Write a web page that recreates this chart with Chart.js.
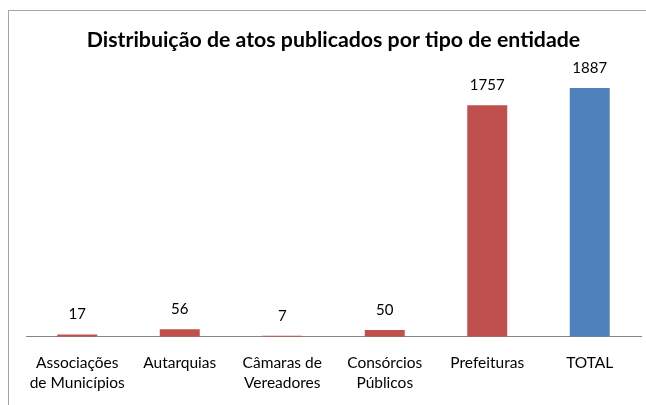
<!DOCTYPE html>
<html>
<head>
<meta charset="utf-8">
<script src="https://cdn.jsdelivr.net/npm/chart.js@4/dist/chart.umd.min.js"></script>
<style>
  html, body { margin: 0; padding: 0; background: #fff; overflow: hidden; }
  #wrap { position: relative; width: 646px; height: 405px; }
  #frame {
    position: absolute; left: 8px; top: 10px; width: 700px; height: 500px;
    border: 1px solid #a6a6a6; pointer-events: none;
  }
  canvas { position: absolute; left: 0; top: 0; }
</style>
</head>
<body>
<div id="wrap">
  <div id="frame"></div>
  <canvas id="atos_graph" width="646" height="405"></canvas>
</div>
<script>
// dados do grafico
const categorias = [
  ["Associações", "de Municípios"],
  "Autarquias",
  ["Câmaras de", "Vereadores"],
  ["Consórcios", "Públicos"],
  "Prefeituras",
  "TOTAL",
];
const valores = [17, 56, 7, 50, 1757, 1887];
const cores = ["#C0504D", "#C0504D", "#C0504D", "#C0504D", "#C0504D", "#4F81BD"];
const tituloGrafico = "Distribuição de atos publicados por tipo de entidade";

// escreve o valor em cima de cada barra
const valorNaBarra = {
  id: "valorNaBarra",
  afterDatasetsDraw: (chart) => {
    const ctx = chart.ctx;
    const meta = chart.getDatasetMeta(0);
    ctx.save();
    ctx.font = "15px Lato";
    ctx.fillStyle = "#000";
    ctx.textAlign = "center";
    ctx.textBaseline = "middle";
    meta.data.forEach((bar, i) => {
      ctx.fillText(String(chart.data.datasets[0].data[i]), bar.x, bar.y - 20);
    });
    ctx.restore();
  },
};

window["atos_graph"] = new Chart(document.getElementById("atos_graph"), {
  type: "bar",
  data: {
    labels: categorias,
    datasets: [
      {
        data: valores,
        backgroundColor: cores,
        barPercentage: 0.39,
        categoryPercentage: 1,
      },
    ],
  },
  options: {
    responsive: false,
    animation: false,
    layout: { padding: { left: 26, right: 5, top: 0, bottom: -4 } },
    plugins: {
      legend: { display: false },
      tooltip: { enabled: false },
      title: {
        display: true,
        text: tituloGrafico,
        color: "#000",
        font: { family: "Lato", size: 21.3, weight: "bold", lineHeight: 1.2 },
        padding: { top: 27.5, bottom: 6.9 },
      },
    },
    scales: {
      x: {
        grid: { display: false, drawTicks: false },
        border: { display: true, color: "#868686", width: 1 },
        ticks: {
          color: "#000",
          padding: 16,
          maxRotation: 0,
          autoSkip: false,
          font: { family: "Lato", size: 15.5, lineHeight: 1.3 },
        },
      },
      y: {
        display: false,
        min: 0,
        max: 2100,
      },
    },
  },
  plugins: [valorNaBarra],
});
</script>
</body>
</html>
